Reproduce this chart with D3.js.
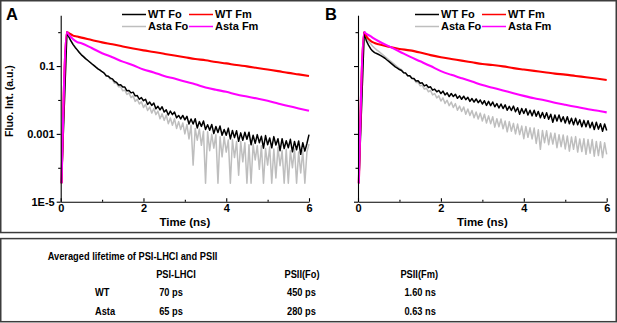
<!DOCTYPE html>
<html><head><meta charset="utf-8">
<script src="https://cdn.jsdelivr.net/npm/d3@7"></script>
<style>
body{margin:0;background:#fff}
svg{display:block}
text{font-family:Arial,"Liberation Sans",Helvetica,sans-serif;font-weight:bold;fill:#000}
</style>
</head><body>
<svg id="c" width="617" height="323"></svg>
<script>
// ---------------- DATA ----------------
const timeDense = [0.02,
 0.15,0.2,0.25,0.3,0.35,0.4,0.45,0.5,0.55,0.6,0.65,0.7,0.75,0.8,0.85,0.9,0.95,1,
 1.05,1.1,1.15,1.2,1.25,1.3,1.35,1.4,1.45,1.5,
 1.55,1.6,1.65,1.7,1.75,1.8,1.85,1.9,1.95,2,
 2.05,2.1,2.15,2.2,2.25,2.3,2.35,2.4,2.45,2.5,
 2.55,2.6,2.65,2.7,2.75,2.8,2.85,2.9,2.95,3,
 3.05,3.1,3.15,3.2,3.25,3.3,3.35,3.4,3.45,3.5,
 3.55,3.6,3.65,3.7,3.75,3.8,3.85,3.9,3.95,4,
 4.05,4.1,4.15,4.2,4.25,4.3,4.35,4.4,4.45,4.5,
 4.55,4.6,4.65,4.7,4.75,4.8,4.85,4.9,4.95,5,
 5.05,5.1,5.15,5.2,5.25,5.3,5.35,5.4,5.45,5.5,
 5.55,5.6,5.65,5.7,5.75,5.8,5.85,5.9,5.95,6];
const timeSparse = [0.02,0.15,0.2,0.3,0.4,0.5,0.75,1,1.25,1.5,1.75,2,2.25,2.5,2.75,3,3.25,3.5,3.75,4,4.25,4.5,4.75,5,5.25,5.5,5.75,6];

// Panel A
const wtFoA = [3.5e-5,
 1.0,0.71,0.54,0.43,0.355,0.30,0.25,0.214,0.19,0.166,0.148,0.132,0.117,0.105,0.093,0.083,0.076,0.068,
 0.062,0.052,0.050,0.044,0.042,0.035,0.033,0.0275,0.028,0.024,
 0.024,0.0186,0.0191,0.0162,0.0170,0.0132,0.0135,0.0105,0.0117,0.0095,
 0.0105,0.0074,0.0087,0.0069,0.0081,0.0055,0.0065,0.0051,0.0063,0.0044,
 0.0051,0.0036,0.0047,0.0037,0.0044,0.0030,0.0035,0.00275,0.0035,0.0026,
 0.0033,0.00195,0.00275,0.00195,0.0028,0.0015,0.0023,0.00166,0.0024,0.00135,
 0.00186,0.00129,0.0019,0.00102,0.00166,0.0011,0.0017,0.00091,0.00135,0.00091,
 0.00148,0.00071,0.00126,0.000776,0.00123,0.000603,0.00107,0.000646,0.00112,0.000692,
 0.00112,0.000479,0.00091,0.000525,0.00095,0.00055,0.00085,0.00038,0.00089,0.00048,
 0.00076,0.00039,0.00083,0.00047,0.00072,0.00032,0.00072,0.00037,0.00063,0.00039,
 0.00069,0.000295,0.0006,0.00034,0.00062,0.00025,0.00055,0.00031,0.00052,0.00095];
const astaFoA = [3.5e-5,
 1.0,0.72,0.55,0.44,0.36,0.30,0.25,0.215,0.19,0.167,0.148,0.132,0.118,0.105,0.094,0.084,0.076,0.069,
 0.062,0.051,0.050,0.041,0.040,0.031,0.031,0.0245,0.0245,0.0186,
 0.0195,0.0145,0.0162,0.0117,0.0132,0.0091,0.0105,0.0076,0.0089,0.0060,
 0.0074,0.0049,0.0062,0.0041,0.0056,0.0037,0.0047,0.0028,0.0039,0.0025,
 0.0036,0.0020,0.00295,0.0018,0.0028,0.00145,0.0023,0.00135,0.0021,0.0010,
 0.0019,0.00071,0.0018,0.00012,0.00145,0.00065,0.0014,0.00046,0.0012,3.5e-5,
 0.00115,0.00032,0.00098,0.00038,0.00095,3.5e-5,0.00083,0.00021,0.00081,0.00029,
 0.00066,3.5e-5,0.00068,0.0002,0.0006,6e-5,0.0006,0.00015,0.00055,3.5e-5,
 0.00048,3.5e-5,0.0005,0.00017,0.00045,9e-5,0.00045,3.5e-5,0.00037,0.00012,
 0.00041,3.5e-5,0.00036,5e-5,0.0004,0.000115,0.00032,3.5e-5,0.00035,3.5e-5,
 0.00032,0.0001,0.00036,3.5e-5,0.00029,7e-5,0.00032,3.5e-5,0.00029,0.0005];
const wtFmA = [3.5e-5,1.0,0.93,0.79,0.74,0.69,0.59,0.50,0.44,0.38,0.33,0.29,0.26,0.23,0.204,0.182,0.162,0.148,0.132,0.120,0.107,0.098,0.088,0.079,0.071,0.063,0.057,0.051];
const astaFmA = [3.5e-5,1.0,0.83,0.62,0.51,0.47,0.34,0.24,0.182,0.135,0.105,0.079,0.065,0.051,0.043,0.035,0.029,0.0234,0.020,0.0174,0.0145,0.0126,0.011,0.0095,0.0079,0.0066,0.0056,0.0048];

// Panel B
const wtFoB = [3.5e-5,
 1.0,0.56,0.42,0.33,0.28,0.25,0.234,0.219,0.204,0.186,0.170,0.151,0.135,0.120,0.107,0.095,0.087,0.079,
 0.074,0.063,0.062,0.052,0.052,0.044,0.043,0.036,0.037,0.031,
 0.032,0.026,0.028,0.0234,0.0245,0.0195,0.0209,0.0174,0.0191,0.0155,
 0.0182,0.0141,0.0162,0.0126,0.0155,0.0126,0.0148,0.0112,0.0132,0.0105,
 0.0129,0.0102,0.0120,0.0091,0.0110,0.0087,0.0107,0.0083,0.0100,0.0076,
 0.0095,0.0069,0.0091,0.0068,0.0087,0.0063,0.0078,0.0058,0.0076,0.0056,
 0.0072,0.0050,0.0065,0.0049,0.0066,0.0045,0.0059,0.0038,0.0056,0.0040,
 0.0055,0.0036,0.0050,0.0034,0.0050,0.0033,0.0046,0.0030,0.0043,0.0029,
 0.0042,0.0027,0.0038,0.0022,0.0036,0.0024,0.0036,0.0023,0.0032,0.0021,
 0.0032,0.0020,0.0029,0.00186,0.0029,0.00186,0.0026,0.00162,0.0025,0.00162,
 0.00245,0.00151,0.0022,0.00135,0.0022,0.00138,0.0020,0.0012,0.00195,0.00126];
const astaFoB = [3.5e-5,
 1.0,0.72,0.55,0.46,0.39,0.34,0.30,0.27,0.24,0.214,0.19,0.17,0.151,0.135,0.120,0.107,0.095,0.085,
 0.078,0.065,0.063,0.052,0.051,0.042,0.041,0.033,0.033,0.026,
 0.0275,0.0209,0.0224,0.0174,0.0191,0.0141,0.0155,0.0115,0.0132,0.0093,
 0.0115,0.0079,0.0098,0.0068,0.0087,0.0060,0.0078,0.0050,0.0066,0.0046,
 0.0062,0.0038,0.0054,0.0035,0.0049,0.0030,0.0044,0.00275,0.0041,0.0024,
 0.0038,0.0021,0.0034,0.0020,0.0032,0.00158,0.0028,0.00162,0.00275,0.00141,
 0.0024,0.00115,0.0023,0.0012,0.00204,0.0010,0.00195,0.00095,0.0017,0.00072,
 0.00166,0.00079,0.00151,0.00071,0.00148,0.00052,0.00132,0.00035,0.00126,0.00055,
 0.00123,0.00048,0.00107,0.0005,0.00105,0.00039,0.00095,0.00042,0.00093,0.00036,
 0.00087,0.00031,0.00081,0.00035,0.00083,0.00029,0.00071,0.0003,0.00072,0.00025,
 0.00068,0.00027,0.00068,0.00022,0.0006,0.00023,0.00059,0.0002,0.00055,0.00025];
const wtFmB = [3.5e-5,1.0,0.76,0.56,0.48,0.44,0.37,0.32,0.29,0.25,0.21,0.182,0.162,0.145,0.129,0.115,0.107,0.098,0.087,0.079,0.072,0.066,0.060,0.056,0.051,0.047,0.043,0.039];
const astaFmB = [3.5e-5,1.0,0.89,0.76,0.63,0.54,0.38,0.27,0.19,0.138,0.100,0.071,0.055,0.044,0.035,0.0275,0.0229,0.0191,0.0158,0.0132,0.0112,0.0098,0.0083,0.0072,0.0063,0.0055,0.0049,0.0043];

const seriesNames = ["WT Fo","WT Fm","Asta Fo","Asta Fm"];
const xMajorTicks = [0,2,4,6];
const xMinorTicks = [1,3,5];
const yMajorTicks = [1e-5,1e-3,1e-1];
const yMajorLabels = ["1E-5","0.001","0.1"];
const yMinorTicks = [1e-4,1e-2,1];
const panelLetters = ["A","B"];
const xAxisTitle = "Time (ns)";
const yAxisTitle = "Fluo. Int. (a.u.)";

const tableTitle = "Averaged lifetime of PSI-LHCI and PSII";
const tableHeaders = ["PSI-LHCI","PSII(Fo)","PSII(Fm)"];
const tableRows = ["WT","Asta"];
const tableValues = [["70 ps","450 ps","1.60 ns"],["65 ps","280 ps","0.63 ns"]];

// ---------------- DRAW ----------------
const svg = d3.select('#c');
const frame = '#3c3c3c';
svg.append('rect').attr('x',0.75).attr('y',0.75).attr('width',615.5).attr('height',231.8)
  .attr('fill','none').attr('stroke',frame).attr('stroke-width',1.5);
svg.append('rect').attr('x',0.75).attr('y',238.6).attr('width',615.5).attr('height',83.1)
  .attr('fill','none').attr('stroke',frame).attr('stroke-width',1.5);

const colors = {"WT Fo":"#000000","WT Fm":"#ff0000","Asta Fo":"#bebebe","Asta Fm":"#ff00ff"};
const panels = [
  {letter:panelLetters[0], x0:60.7, x1:309, lx:6, legX:122, yLabels:true,
   series:{"WT Fo":[timeDense,wtFoA],"WT Fm":[timeSparse,wtFmA],"Asta Fo":[timeDense,astaFoA],"Asta Fm":[timeSparse,astaFmA]}},
  {letter:panelLetters[1], x0:358, x1:606.7, lx:325, legX:415, yLabels:false,
   series:{"WT Fo":[timeDense,wtFoB],"WT Fm":[timeSparse,wtFmB],"Asta Fo":[timeDense,astaFoB],"Asta Fm":[timeSparse,astaFmB]}}
];
const yTop = 15.2, yBot = 201.7;
const mismatches = [];

panels.forEach(p => {
  const g = svg.append('g');
  const x = d3.scaleLinear().domain([0,6]).range([p.x0,p.x1]);
  const y = d3.scaleLog().domain([1e-5, Math.sqrt(10)]).range([yBot,yTop]);

  const drawOrder = ["Asta Fo","WT Fo","WT Fm","Asta Fm"];
  drawOrder.forEach(name => {
    const [t,v] = p.series[name];
    if (t.length !== v.length) mismatches.push(p.letter+' '+name+' '+t.length+'/'+v.length);
    const pts = t.map((tt,i)=>[tt,v[i]]).filter(d=>d[1]!=null);
    const dense = t === timeDense;
    const line = d3.line().x(d=>x(d[0])).y(d=>y(d[1]))
      .curve(dense ? d3.curveLinear : d3.curveMonotoneX);
    g.append('path').datum(pts).attr('d',line).attr('fill','none')
      .attr('stroke',colors[name]).attr('stroke-width', dense ? 1.5 : 2.1)
      .attr('stroke-linejoin','round');
  });

  const yAxis = d3.axisLeft(y).tickValues(yMajorTicks).tickSizeInner(4).tickSizeOuter(0).tickPadding(2)
    .tickFormat((d,i)=> p.yLabels ? yMajorLabels[i] : "");
  const ga = g.append('g').attr('transform',`translate(${p.x0},0)`).call(yAxis);
  const gm = g.append('g').attr('transform',`translate(${p.x0},0)`)
    .call(d3.axisLeft(y).tickValues(yMinorTicks).tickSizeInner(2.5).tickSizeOuter(0).tickFormat(""));
  const gx = g.append('g').attr('transform',`translate(0,${yBot})`)
    .call(d3.axisBottom(x).tickValues(xMajorTicks).tickSizeInner(-3.5).tickSizeOuter(0).tickPadding(2).tickFormat(d3.format('d')));
  const gxm = g.append('g').attr('transform',`translate(0,${yBot})`)
    .call(d3.axisBottom(x).tickValues(xMinorTicks).tickSizeInner(-2).tickSizeOuter(0).tickFormat(""));
  [ga,gm,gx,gxm].forEach(a => {
    a.selectAll('path,line').attr('stroke','#000').attr('stroke-width',1.1);
    a.selectAll('text').style('font-size','11px').style('font-weight','bold')
      .style('font-family','Arial,"Liberation Sans",sans-serif').attr('fill','#000');
  });
  gm.select('.domain').remove();
  gxm.select('.domain').remove();
  g.append('text').attr('x',(p.x0+p.x1)/2).attr('y',226).attr('text-anchor','middle')
    .style('font-size','11.5px').text(xAxisTitle);
  g.append('text').attr('x',p.lx).attr('y',20.2).style('font-size','16.5px').text(p.letter);

  const legPos = {"WT Fo":[0,0],"WT Fm":[1,0],"Asta Fo":[0,1],"Asta Fm":[1,1]};
  seriesNames.forEach(name => {
    const [c,r] = legPos[name];
    const lx = p.legX + c*67, ly = 14.5 + r*12;
    g.append('line').attr('x1',lx).attr('x2',lx+24).attr('y1',ly).attr('y2',ly)
      .attr('stroke',colors[name]).attr('stroke-width',1.5);
    g.append('text').attr('x',lx+26).attr('y',ly).attr('dy','0.36em')
      .style('font-size','11px').text(name);
  });
});

svg.append('text').attr('transform','translate(13,101) rotate(-90)').attr('text-anchor','middle')
  .style('font-size','10.5px').text(yAxisTitle);

// ---------------- TABLE ----------------
const tg = svg.append('g');
const tfs = '11px';
const titleEl = tg.append('text').attr('x',47.7).attr('y',259.5).style('font-size',tfs).text(tableTitle);
const squeeze = 169.6 / titleEl.node().getComputedTextLength();
function sq(sel){ const w = sel.node().getComputedTextLength()*squeeze; sel.attr('textLength',w).attr('lengthAdjust','spacingAndGlyphs'); return sel; }
sq(titleEl);
const headerX = [176, 302, 419.2];
const valueX = [171, 301.5, 420.2];
tableHeaders.forEach((h,i)=>{
  sq(tg.append('text').attr('x',headerX[i]).attr('y',277.5).attr('text-anchor','middle').style('font-size',tfs).text(h));
});
tableRows.forEach((r,ri)=>{
  const yy = 296 + ri*18.5;
  sq(tg.append('text').attr('x',95).attr('y',yy).style('font-size',tfs).text(r));
  tableValues[ri].forEach((v,ci)=>{
    sq(tg.append('text').attr('x',valueX[ci]).attr('y',yy).attr('text-anchor','middle').style('font-size',tfs).text(v));
  });
});

if (mismatches.length) throw new Error('length mismatch: '+mismatches.join('; '));
</script>
</body></html>
